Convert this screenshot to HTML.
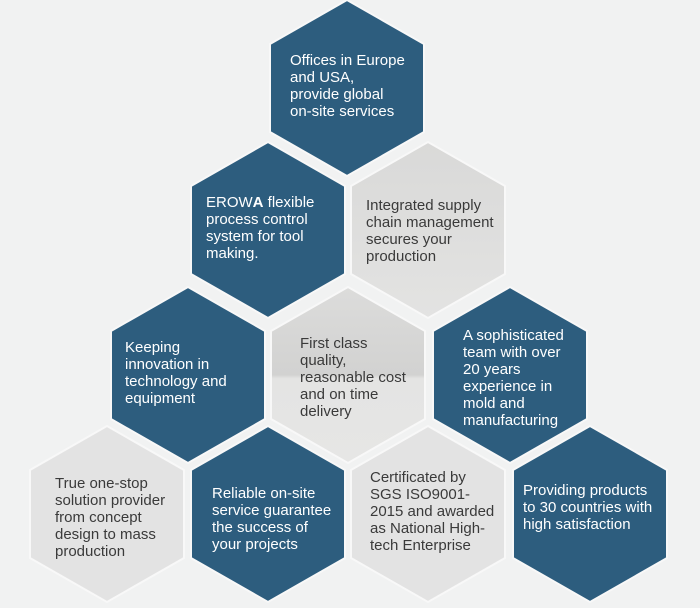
<!DOCTYPE html>
<html><head><meta charset="utf-8"><style>
html,body{margin:0;padding:0;background:#f1f2f2;}
svg{display:block}
text{font-family:"Liberation Sans",sans-serif;font-size:15px;}
.w{fill:#ffffff}.d{fill:#3a3a3a}
</style></head><body>
<svg width="700" height="608" viewBox="0 0 700 608" xmlns="http://www.w3.org/2000/svg">
<defs>
<polygon id="h" points="0,-88 77,-44 77,44 0,88 -77,44 -77,-44" stroke="#f8f8f8" stroke-width="2"/>
<linearGradient id="g1" x1="0" y1="0" x2="0" y2="1">
<stop offset="0" stop-color="#d9d9d8"/><stop offset="1" stop-color="#e3e3e2"/></linearGradient>
<linearGradient id="g2" x1="0" y1="0" x2="0" y2="1">
<stop offset="0" stop-color="#dcdcdb"/><stop offset="0.5" stop-color="#d2d2d1"/><stop offset="0.52" stop-color="#e4e4e3"/><stop offset="1" stop-color="#e6e6e5"/></linearGradient>
</defs>
<rect width="700" height="608" fill="#f1f2f2"/>
<use href="#h" x="347" y="88" fill="#2d5d7e"/>
<use href="#h" x="268" y="230" fill="#2d5d7e"/>
<use href="#h" x="428" y="230" fill="url(#g1)"/>
<use href="#h" x="188" y="375" fill="#2d5d7e"/>
<use href="#h" x="348" y="375" fill="url(#g2)"/>
<use href="#h" x="510" y="375" fill="#2d5d7e"/>
<use href="#h" x="107" y="514" fill="#e3e3e3"/>
<use href="#h" x="268" y="514" fill="#2d5d7e"/>
<use href="#h" x="428" y="514" fill="#e3e3e3"/>
<use href="#h" x="590" y="514" fill="#2d5d7e"/>

<text class="w" x="290" y="65"><tspan x="290">Offices in Europe</tspan><tspan x="290" dy="17">and USA,</tspan><tspan x="290" dy="17">provide global</tspan><tspan x="290" dy="17">on-site services</tspan></text>
<text class="w" x="206" y="207"><tspan x="206">EROW<tspan font-weight="bold">A</tspan> flexible</tspan><tspan x="206" dy="17">process control</tspan><tspan x="206" dy="17">system for tool</tspan><tspan x="206" dy="17">making.</tspan></text>
<text class="d" x="366" y="210"><tspan x="366">Integrated supply</tspan><tspan x="366" dy="17">chain management</tspan><tspan x="366" dy="17">secures your</tspan><tspan x="366" dy="17">production</tspan></text>
<text class="w" x="125" y="352"><tspan x="125">Keeping</tspan><tspan x="125" dy="17">innovation in</tspan><tspan x="125" dy="17">technology and</tspan><tspan x="125" dy="17">equipment</tspan></text>
<text class="d" x="300" y="348"><tspan x="300">First class</tspan><tspan x="300" dy="17">quality,</tspan><tspan x="300" dy="17">reasonable cost</tspan><tspan x="300" dy="17">and on time</tspan><tspan x="300" dy="17">delivery</tspan></text>
<text class="w" x="463" y="340"><tspan x="463">A sophisticated</tspan><tspan x="463" dy="17">team with over</tspan><tspan x="463" dy="17">20 years</tspan><tspan x="463" dy="17">experience in</tspan><tspan x="463" dy="17">mold and</tspan><tspan x="463" dy="17">manufacturing</tspan></text>
<text class="d" x="55" y="488"><tspan x="55">True one-stop</tspan><tspan x="55" dy="17">solution provider</tspan><tspan x="55" dy="17">from concept</tspan><tspan x="55" dy="17">design to mass</tspan><tspan x="55" dy="17">production</tspan></text>
<text class="w" x="212" y="498"><tspan x="212">Reliable on-site</tspan><tspan x="212" dy="17">service guarantee</tspan><tspan x="212" dy="17">the success of</tspan><tspan x="212" dy="17">your projects</tspan></text>
<text class="d" x="370" y="482"><tspan x="370">Certificated by</tspan><tspan x="370" dy="17">SGS ISO9001-</tspan><tspan x="370" dy="17">2015 and awarded</tspan><tspan x="370" dy="17">as National High-</tspan><tspan x="370" dy="17">tech Enterprise</tspan></text>
<text class="w" x="523" y="495"><tspan x="523">Providing products</tspan><tspan x="523" dy="17">to 30 countries with</tspan><tspan x="523" dy="17">high satisfaction</tspan></text>
</svg>
</body></html>
